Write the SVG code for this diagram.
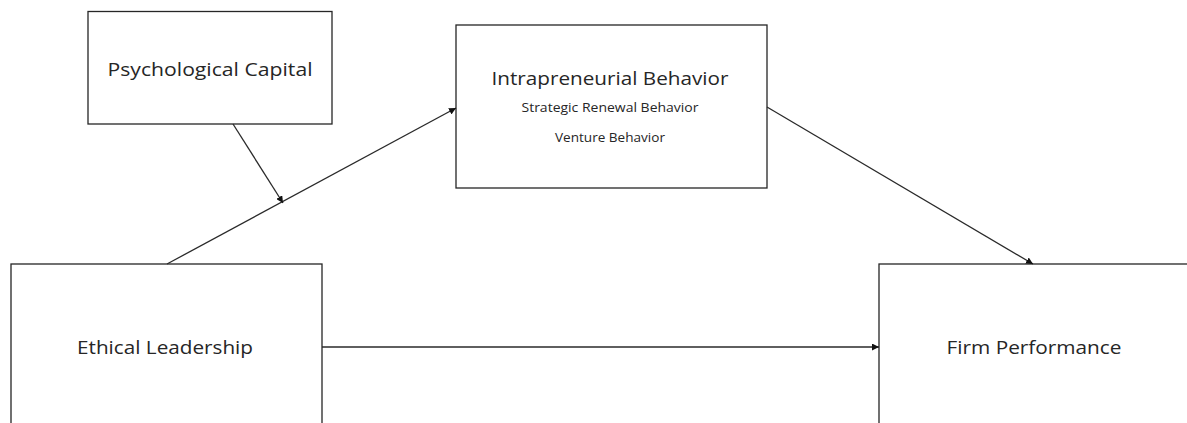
<svg xmlns="http://www.w3.org/2000/svg" width="1187" height="423" viewBox="0 0 1187 423">
  <style>
    .box { fill: #ffffff; stroke: #262626; stroke-width: 1.3; }
    .lbl { font-family: "Open Sans", "Liberation Sans", sans-serif; fill: #262626; text-anchor: middle; }
    .big { font-size: 18px; }
    .small { font-size: 12.5px; }
    .edge { stroke: #2a2a2a; stroke-width: 1.3; fill: none; marker-end: url(#arrow); }
  </style>
  <defs>
    <marker id="arrow" viewBox="0 0 10 10" refX="10" refY="5" markerWidth="7" markerHeight="7" markerUnits="userSpaceOnUse" orient="auto">
      <path d="M0,0 L10,5 L0,10 z" fill="#111"/>
    </marker>
  </defs>
  <rect width="1187" height="423" fill="#ffffff"/>

  <g id="psychological-capital">
    <rect class="box" x="88" y="11.5" width="244" height="112.5"/>
    <text class="lbl big" x="210" y="76" textLength="205" lengthAdjust="spacingAndGlyphs">Psychological Capital</text>
  </g>

  <g id="intrapreneurial-behavior">
    <rect class="box" x="456" y="25" width="311" height="163"/>
    <text class="lbl big" x="610" y="85" textLength="237" lengthAdjust="spacingAndGlyphs">Intrapreneurial Behavior</text>
    <text class="lbl small" x="610" y="112" textLength="177" lengthAdjust="spacingAndGlyphs">Strategic Renewal Behavior</text>
    <text class="lbl small" x="610" y="142" textLength="110" lengthAdjust="spacingAndGlyphs">Venture Behavior</text>
  </g>

  <g id="ethical-leadership">
    <rect class="box" x="11" y="264" width="311" height="170"/>
    <text class="lbl big" x="165" y="354" textLength="176" lengthAdjust="spacingAndGlyphs">Ethical Leadership</text>
  </g>

  <g id="firm-performance">
    <rect class="box" x="879" y="264" width="320" height="170"/>
    <text class="lbl big" x="1034" y="354" textLength="175" lengthAdjust="spacingAndGlyphs">Firm Performance</text>
  </g>

  <g id="connectors">
    <line class="edge" x1="167" y1="264" x2="456" y2="108"/>
    <line class="edge" x1="233" y1="124" x2="283" y2="203"/>
    <line class="edge" x1="767" y1="107" x2="1033" y2="264"/>
    <line class="edge" x1="322" y1="347" x2="879" y2="347"/>
  </g>
</svg>
